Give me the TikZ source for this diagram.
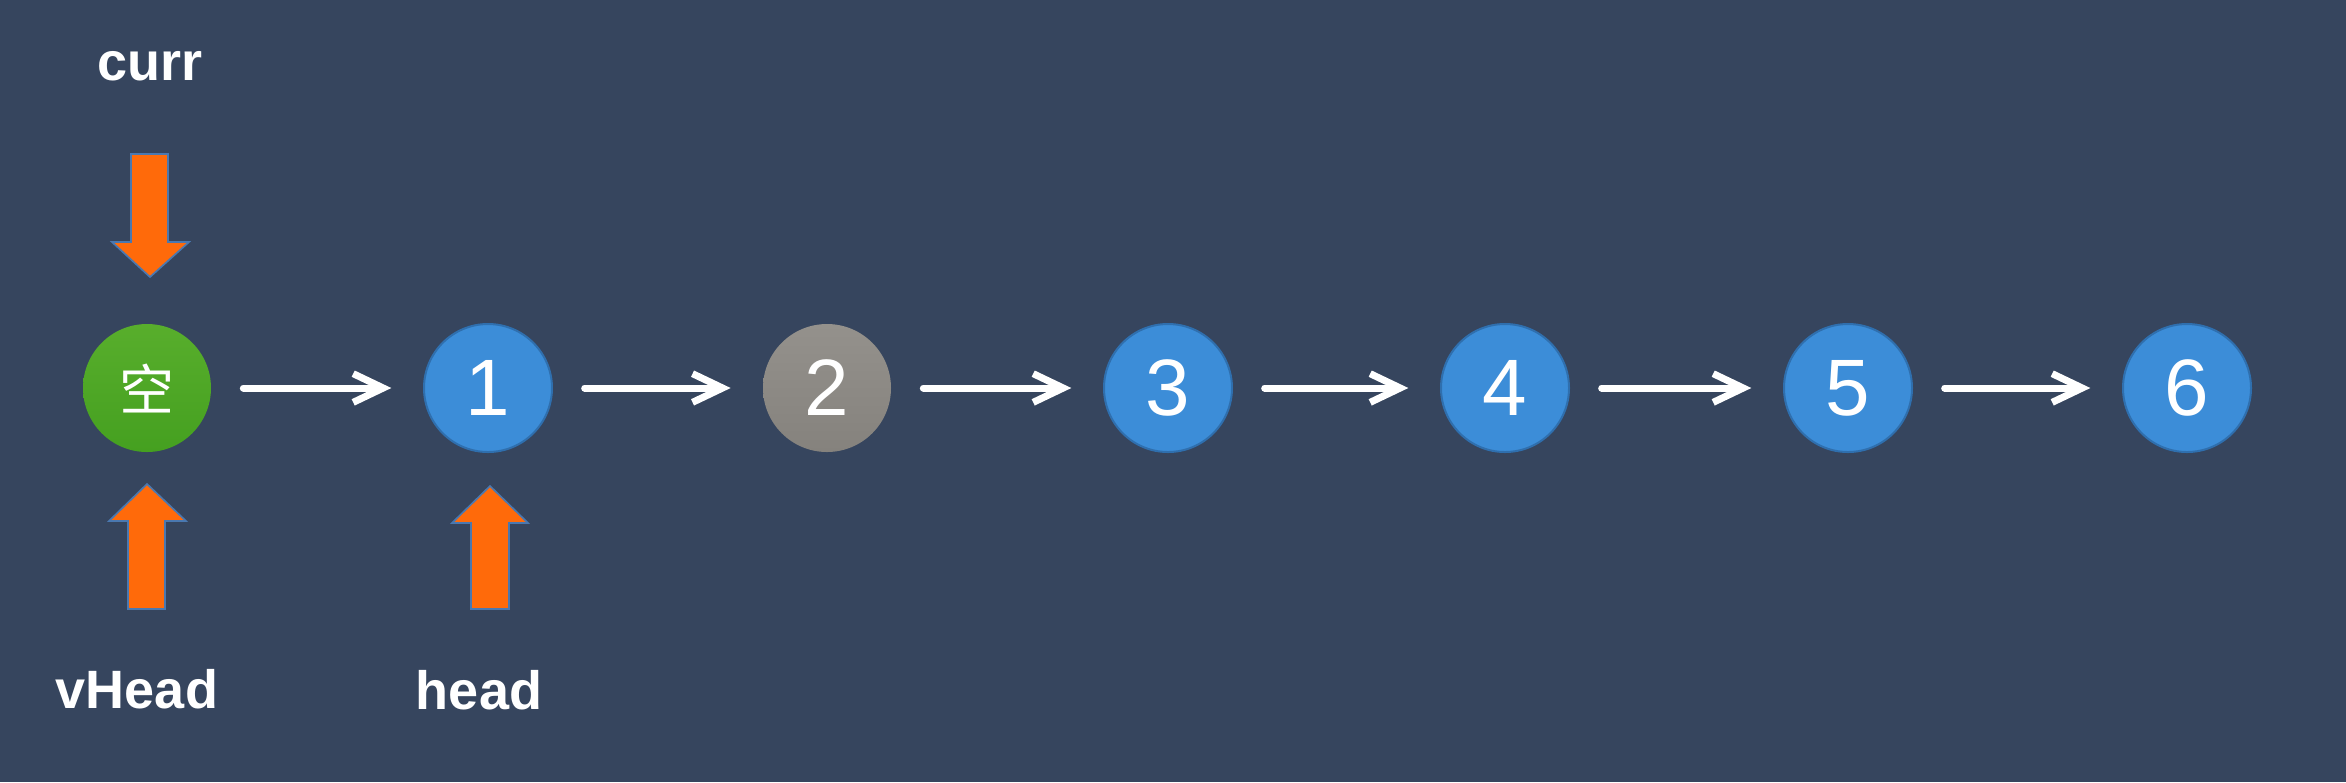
\documentclass[tikz,border=0pt]{standalone}
\usepackage{fontspec}
\setmainfont{Liberation Sans}
\newfontfamily\cjk{Noto Sans CJK SC}
\usetikzlibrary{arrows.meta}
\definecolor{bg}{HTML}{36455E}
\definecolor{nodeblue}{HTML}{3C8DD8}
\definecolor{nodeblueedge}{HTML}{2F6FAE}
\definecolor{nodegreen}{HTML}{58AE2C}
\definecolor{nodegreendark}{HTML}{45A020}
\definecolor{nodegray}{HTML}{94918C}
\definecolor{nodegraydark}{HTML}{85827D}
\definecolor{ptrorange}{HTML}{FF6A0A}
\definecolor{ptredge}{HTML}{4A78B0}
\tikzset{
  listnode/.style={circle, minimum size=38.4pt, inner sep=0pt, text=white,
    font=\fontsize{24}{24}\selectfont},
  bluenode/.style={listnode, fill=nodeblue, draw=nodeblueedge, line width=0.6pt},
  greennode/.style={listnode, top color=nodegreen, bottom color=nodegreendark,
    font=\cjk\fontsize{16.5}{16.5}\selectfont},
  graynode/.style={listnode, top color=nodegray, bottom color=nodegraydark},
  link/.style={draw=white, line width=2.1pt, line cap=round,
    -{Straight Barb[length=9pt,width=8.6pt,line width=2.1pt]},
    shorten <=9.5pt, shorten >=9.5pt},
  ptr/.style={fill=ptrorange, draw=ptredge, line width=0.5pt, line join=miter},
  label/.style={text=white, font=\bfseries\fontsize{16.2}{16.2}\selectfont}
}
\begin{document}
\begin{tikzpicture}[x=0.3pt,y=-0.3pt]
  \fill[bg] (0,0) rectangle (2346,782);
  \useasboundingbox (0,0) rectangle (2346,782);
  % list nodes
  \node[greennode] (n0) at (147,388) {空};
  \node[bluenode]  (n1) at (488,388) {1};
  \node[graynode]  (n2) at (827,388) {2};
  \node[bluenode]  (n3) at (1168,388) {3};
  \node[bluenode]  (n4) at (1505,388) {4};
  \node[bluenode]  (n5) at (1848,388) {5};
  \node[bluenode]  (n6) at (2187,388) {6};
  % links
  \draw[link] (n0) -- (n1);
  \draw[link] (n1) -- (n2);
  \draw[link] (n2) -- (n3);
  \draw[link] (n3) -- (n4);
  \draw[link] (n4) -- (n5);
  \draw[link] (n5) -- (n6);
  % pointer labels
  \node[label] (curr) at (150,66) {curr};
  \node[label] (vhead) at (137,689) {vHead};
  \node[label] (head) at (479,690) {head};
  % pointer arrows
  \draw[ptr] (131,154) -- (168,154) -- (168,242) -- (189,242) -- (150,277)
    -- (112,242) -- (131,242) -- cycle;
  \draw[ptr] (128,609) -- (165,609) -- (165,521) -- (186,521) -- (147,484)
    -- (109,521) -- (128,521) -- cycle;
  \draw[ptr] (471,609) -- (509,609) -- (509,523) -- (528,523) -- (490,486)
    -- (452,523) -- (471,523) -- cycle;
\end{tikzpicture}
\end{document}
